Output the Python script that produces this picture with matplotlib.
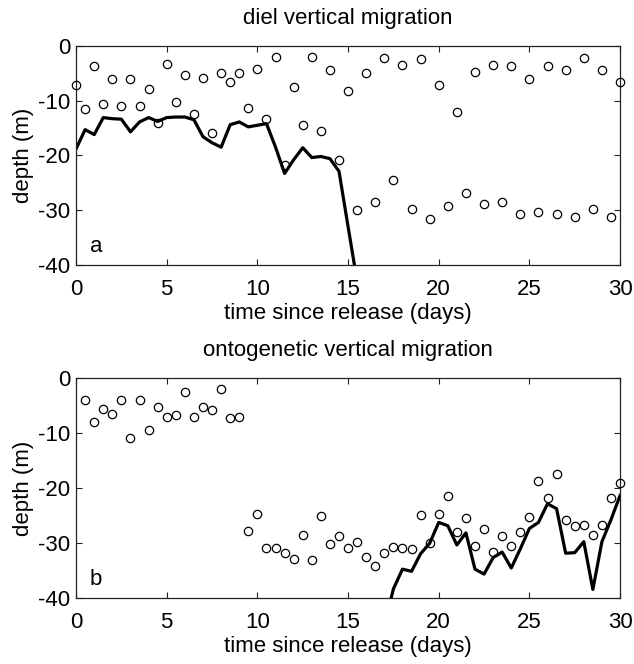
import numpy as np
import matplotlib
matplotlib.use('Agg')
import matplotlib.pyplot as plt

plt.rcParams['font.family'] = ['Liberation Sans', 'DejaVu Sans']
plt.rcParams['axes.unicode_minus'] = False

# panel a: diel vertical migration (circles every half day, line until it sinks out)
t_dots_a = np.arange(0, 30.01, 0.5)
depth_dots_a = [-7.2, -11.5, -3.7, -10.6, -6.1, -11.0, -6.1, -11.0, -7.8, -14.1,
                -3.4, -10.2, -5.4, -12.4, -5.9, -15.9, -4.9, -6.6, -5.0, -11.3,
                -4.3, -13.3, -2.0, -21.8, -7.5, -14.4, -2.0, -15.6, -4.5, -20.9,
                -8.3, -30.0, -4.9, -28.6, -2.3, -24.5, -3.5, -29.7, -2.4, -31.6,
                -7.2, -29.2, -12.0, -26.8, -4.7, -28.8, -3.5, -28.6, -3.6, -30.7,
                -6.1, -30.4, -3.6, -30.7, -4.4, -31.3, -2.2, -29.8, -4.5, -31.3,
                -6.6]
t_line_a = np.arange(0, 15.51, 0.5)
depth_line_a = [-18.8, -15.3, -16.2, -13.1, -13.3, -13.4, -15.7, -13.9, -13.1, -13.8,
                -13.1, -13.0, -13.0, -13.5, -16.6, -17.7, -18.5, -14.4, -13.9, -14.8,
                -14.5, -14.2, -18.5, -23.3, -20.8, -18.6, -20.4, -20.2, -20.6, -22.9,
                -33.0, -43.0]

# panel b: ontogenetic vertical migration
t_dots_b = np.arange(0.5, 30.01, 0.5)
depth_dots_b = [-3.9, -8.0, -5.5, -6.4, -3.9, -10.8, -3.9, -9.3, -5.1, -7.0,
                -6.6, -2.4, -7.1, -5.1, -5.8, -2.0, -7.2, -7.0, -27.7, -24.6,
                -30.9, -30.8, -31.7, -32.8, -28.5, -33.1, -25.0, -30.1, -28.6, -30.9,
                -29.7, -32.5, -34.2, -31.7, -30.7, -30.8, -31.0, -24.9, -29.9, -24.7,
                -21.3, -28.0, -25.4, -30.5, -27.4, -31.5, -28.7, -30.4, -28.0, -25.3,
                -18.6, -21.7, -17.4, -25.8, -26.8, -26.7, -28.4, -26.7, -21.8, -19.0]
t_line_b = np.arange(17, 30.01, 0.5)
depth_line_b = [-45.0, -38.3, -34.7, -35.1, -31.9, -30.0, -26.2, -26.8, -30.3, -28.1,
                -34.7, -35.6, -32.6, -31.6, -34.5, -31.0, -27.3, -26.2, -22.8, -23.7,
                -31.8, -31.7, -29.7, -38.4, -29.7, -25.7, -21.3]

panels = [('diel vertical migration', 'a', t_dots_a, depth_dots_a, t_line_a, depth_line_a),
          ('ontogenetic vertical migration', 'b', t_dots_b, depth_dots_b, t_line_b, depth_line_b)]

xticks = [0, 5, 10, 15, 20, 25, 30]
yticks = [0, -10, -20, -30, -40]
fs = 16

fig = plt.figure(figsize=(6.34, 6.64), dpi=100)
rects = [[0.120, 0.601, 0.858, 0.330], [0.120, 0.099, 0.858, 0.331]]

for rect, (title, tag, td, dd, tl, dl) in zip(rects, panels):
    ax = fig.add_axes(rect)
    ax.plot(tl, dl, color='black', lw=2.3, zorder=2)
    ax.plot(td, dd, 'o', mfc='none', mec='black', ms=6, mew=0.9, clip_on=False, zorder=3)
    ax.set_xlim(0, 30)
    ax.set_ylim(-40, 0)
    ax.set_xticks(xticks)
    ax.set_yticks(yticks)
    ax.tick_params(direction='in', length=4, width=0.8, top=True, right=True,
                   labelsize=fs, color='#222222')
    ax.tick_params(axis='x', pad=10)
    ax.tick_params(axis='y', pad=4)
    for sp in ax.spines.values():
        sp.set_linewidth(0.9)
        sp.set_color('#222222')
    ax.set_title(title, fontsize=fs, pad=16)
    ax.set_xlabel('time since release (days)', fontsize=fs, labelpad=2)
    ax.set_ylabel('depth (m)', fontsize=fs, labelpad=3)
    ax.text(0.025, 0.085, tag, transform=ax.transAxes, fontsize=fs, va='center', ha='left')

fig.savefig('out.png', dpi=100)
